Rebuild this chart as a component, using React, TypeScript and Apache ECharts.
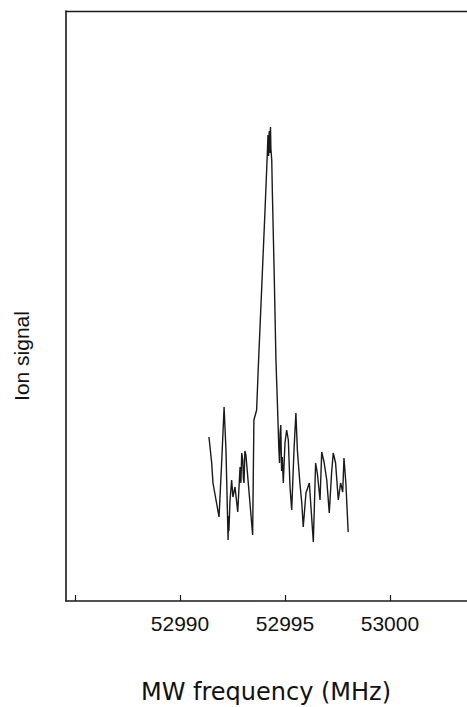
import React, { useEffect, useRef } from "react";
import * as echarts from "echarts";

const freqMHz = [
  52991.38, 52991.45, 52991.51, 52991.57, 52991.86, 52991.99, 52992.10, 52992.19,
  52992.29, 52992.31, 52992.33, 52992.38, 52992.46, 52992.52, 52992.62, 52992.75,
  52992.86, 52992.90, 52992.94, 52992.99, 52993.02, 52993.05, 52993.09, 52993.14,
  52993.24, 52993.46, 52993.52, 52993.65, 52993.73, 52994.05, 52994.16,
  52994.19, 52994.22, 52994.25, 52994.28, 52994.31, 52994.33, 52994.37, 52994.40,
  52994.49, 52994.57, 52994.65, 52994.71, 52994.74, 52994.77, 52994.80, 52994.84,
  52994.87, 52994.92, 52995.00,
  52995.08, 52995.16, 52995.24, 52995.32, 52995.43, 52995.52, 52995.59, 52995.71,
  52995.80, 52995.87, 52996.00, 52996.16, 52996.27, 52996.35, 52996.46, 52996.54,
  52996.67, 52996.75, 52996.86, 52996.99, 52997.11, 52997.22, 52997.30, 52997.41,
  52997.54, 52997.65, 52997.75, 52997.81, 52997.90, 52998.01,
];

const ionSignal = [
  164, 150, 138, 118, 84, 141, 194, 151,
  61, 85, 70, 100, 121, 104, 114, 89,
  134, 118, 148, 141, 122, 118, 150, 146,
  121, 66, 181, 191, 234, 391, 448,
  466, 445, 470, 448, 474, 452, 441, 408,
  324, 241, 191, 151, 138, 168, 176, 130,
  144, 118, 158,
  171, 161, 114, 91, 151, 188, 151, 118,
  98, 74, 108, 118, 84, 59, 138, 128,
  101, 149, 139, 121, 88, 128, 148, 138,
  101, 118, 109, 143, 118, 69,
];

const tickValues = [52985, 52990, 52995, 53000];
const labelValues = [52990, 52995, 53000];
const xMin = 52984.57;
const xMax = 53003.67;
const yMin = 0;
const yMax = 590;

export default function App() {
  const ref = useRef<HTMLDivElement>(null);
  useEffect(() => {
    if (!ref.current) return;
    const chart = echarts.init(ref.current, null, { renderer: "svg" });
    const axisColor = "#1a1a1a";
    chart.setOption({
      animation: false,
      backgroundColor: "#ffffff",
      grid: { left: 66, right: 0, top: 11, bottom: 106, containLabel: false },
      xAxis: [
        {
          type: "value",
          position: "bottom",
          min: xMin,
          max: xMax,
          axisLine: { show: true, onZero: false, lineStyle: { color: axisColor, width: 1.6 } },
          axisTick: {
            show: true,
            inside: true,
            length: 6,
            customValues: tickValues,
            lineStyle: { color: axisColor, width: 1.2 },
          },
          axisLabel: {
            show: true,
            customValues: labelValues,
            margin: 12,
            color: "#111",
            fontSize: 21,
            fontFamily: "Liberation Sans, Arial, sans-serif",
            formatter: (v: number) => String(Math.round(v)),
          },
          splitLine: { show: false },
        },
        {
          type: "value",
          position: "top",
          min: xMin,
          max: xMax,
          axisLine: { show: true, onZero: false, lineStyle: { color: axisColor, width: 1.4 } },
          axisTick: { show: false },
          axisLabel: { show: false },
          splitLine: { show: false },
        },
      ],
      yAxis: {
        type: "value",
        min: yMin,
        max: yMax,
        axisLine: { show: true, onZero: false, lineStyle: { color: axisColor, width: 1.6 } },
        axisTick: { show: false },
        axisLabel: { show: false },
        splitLine: { show: false },
      },
      graphic: [
        {
          type: "text",
          x: 21,
          y: 356,
          rotation: Math.PI / 2,
          style: {
            text: "Ion signal",
            fill: "#111",
            fontSize: 21,
            fontFamily: "Liberation Sans, Arial, sans-serif",
            align: "center",
            verticalAlign: "middle",
          },
        },
        {
          type: "text",
          x: 266,
          y: 692,
          style: {
            text: "MW frequency (MHz)",
            fill: "#111",
            fontSize: 24,
            fontFamily: "DejaVu Sans, sans-serif",
            align: "center",
            verticalAlign: "middle",
          },
        },
      ],
      series: [
        {
          type: "line",
          xAxisIndex: 0,
          data: freqMHz.map((f, i) => [f, ionSignal[i]]),
          showSymbol: false,
          symbol: "none",
          lineStyle: { color: "#1a1a1a", width: 1.4 },
        },
      ],
    });
    return () => chart.dispose();
  }, []);
  return (
    <div
      ref={ref}
      style={{ position: "absolute", left: 0, top: 0, width: 467, height: 707 }}
    />
  );
}
